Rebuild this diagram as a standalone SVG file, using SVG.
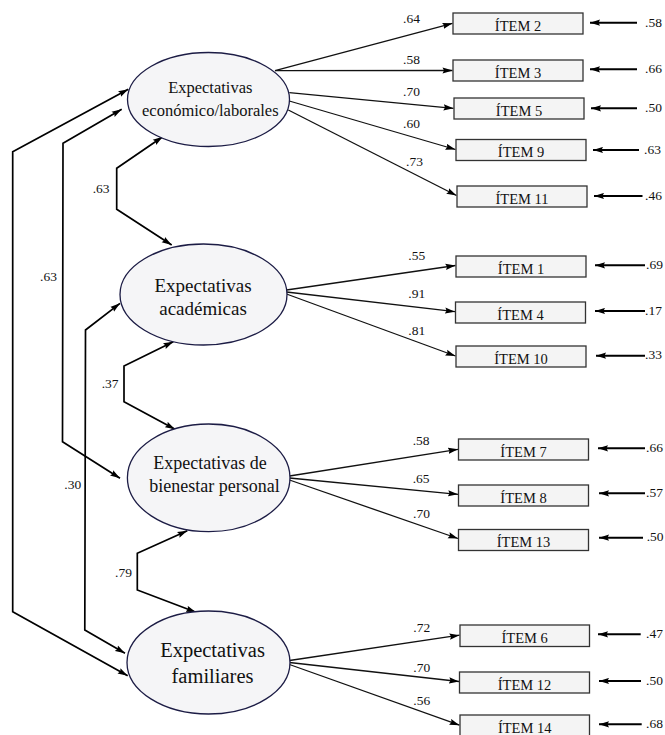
<svg xmlns="http://www.w3.org/2000/svg" width="665" height="735" viewBox="0 0 665 735">
<defs>
<marker id="ah" markerUnits="userSpaceOnUse" markerWidth="10" markerHeight="7" viewBox="0 0 10 7" refX="10" refY="3.5" orient="auto-start-reverse">
<path d="M0,0.4 L10,3.5 L0,6.6 L1.5,3.5 z" fill="#000"/>
</marker>
<style>
.lat ellipse{fill:#f5f5f7;stroke:#1c1c45;stroke-width:1.3}
.lat text{font-family:"Liberation Serif","Times New Roman",serif;fill:#111;text-anchor:middle}
.box rect{fill:#f4f4f4;stroke:#333;stroke-width:1.3}
.box text{font-family:"Liberation Serif","Times New Roman",serif;font-size:14.5px;fill:#111;text-anchor:middle}
.lbl{font-family:"Liberation Serif","Times New Roman",serif;font-size:13.5px;fill:#111}
.load{stroke:#111;stroke-width:1.3;fill:none;marker-end:url(#ah)}
.err{stroke:#000;stroke-width:2;fill:none;marker-end:url(#ah)}
.cov{stroke:#000;stroke-width:1.7;fill:none;marker-start:url(#ah);marker-end:url(#ah)}
</style>
</defs>
<rect width="665" height="735" fill="#fff"/>

<g id="connectors">
<!-- loadings F1 -->
<line class="load" x1="275" y1="70.7" x2="452.5" y2="23.3"/>
<line class="load" x1="275" y1="70.7" x2="452.5" y2="70.5"/>
<line class="load" x1="289.3" y1="92.7" x2="453.5" y2="108.3"/>
<line class="load" x1="289.3" y1="101" x2="455.5" y2="149.5"/>
<line class="load" x1="288.3" y1="110" x2="456.5" y2="195.5"/>
<!-- loadings F2 -->
<line class="load" x1="286.5" y1="290" x2="455.5" y2="265.5"/>
<line class="load" x1="286.5" y1="292" x2="455" y2="311.7"/>
<line class="load" x1="286.5" y1="294" x2="455.5" y2="356"/>
<!-- loadings F3 -->
<line class="load" x1="289.5" y1="476" x2="458" y2="449.3"/>
<line class="load" x1="289.5" y1="478" x2="458" y2="494.3"/>
<line class="load" x1="289.5" y1="480" x2="458" y2="538.5"/>
<!-- loadings F4 -->
<line class="load" x1="289.5" y1="660.5" x2="459.5" y2="635.2"/>
<line class="load" x1="289.5" y1="662.5" x2="459" y2="681.5"/>
<line class="load" x1="289.5" y1="664.5" x2="459.5" y2="725.2"/>
<!-- errors -->
<line class="err" x1="637" y1="22.7" x2="590" y2="22.7"/>
<line class="err" x1="637" y1="69.3" x2="590" y2="69.3"/>
<line class="err" x1="637" y1="108.3" x2="591" y2="108.3"/>
<line class="err" x1="639" y1="150" x2="593" y2="150"/>
<line class="err" x1="642.5" y1="196" x2="594" y2="196"/>
<line class="err" x1="645" y1="265.3" x2="595" y2="265.3"/>
<line class="err" x1="645" y1="311" x2="595" y2="311"/>
<line class="err" x1="645" y1="355.7" x2="596" y2="355.7"/>
<line class="err" x1="645" y1="448.3" x2="598" y2="448.3"/>
<line class="err" x1="645" y1="493.3" x2="599" y2="493.3"/>
<line class="err" x1="643" y1="537.7" x2="599" y2="537.7"/>
<line class="err" x1="640.7" y1="634.3" x2="598" y2="634.3"/>
<line class="err" x1="641" y1="681" x2="599" y2="681"/>
<line class="err" x1="641.7" y1="724.3" x2="599" y2="724.3"/>
<!-- covariances -->
<polyline class="cov" points="128.3,89.3 12.7,151.7 12.7,611.7 127.7,675.7"/>
<polyline class="cov" points="121.7,109.3 63,143.3 62.5,441.7 120,478.3"/>
<polyline class="cov" points="120,303.3 85.5,330 84.8,630 125,653.3"/>
<polyline class="cov" points="162.7,136.7 116.7,168.3 116.7,209.3 171.7,245"/>
<polyline class="cov" points="173.3,341.7 124,366 124,401.7 175,429.3"/>
<polyline class="cov" points="187.3,530.7 137.3,553.3 137.3,590 196,612.3"/>
</g>

<g id="labels">
<text class="lbl" x="403" y="22.5">.64</text>
<text class="lbl" x="403" y="64">.58</text>
<text class="lbl" x="403" y="96">.70</text>
<text class="lbl" x="403" y="128.3">.60</text>
<text class="lbl" x="406" y="165.7">.73</text>
<text class="lbl" x="408.3" y="260">.55</text>
<text class="lbl" x="408.3" y="298.3">.91</text>
<text class="lbl" x="408.3" y="335">.81</text>
<text class="lbl" x="412.7" y="445">.58</text>
<text class="lbl" x="412.7" y="483.3">.65</text>
<text class="lbl" x="413" y="517.7">.70</text>
<text class="lbl" x="413.3" y="631.7">.72</text>
<text class="lbl" x="413.3" y="671.7">.70</text>
<text class="lbl" x="413.3" y="705">.56</text>
<text class="lbl" x="645" y="26.5">.58</text>
<text class="lbl" x="645" y="73">.66</text>
<text class="lbl" x="645" y="112">.50</text>
<text class="lbl" x="644" y="153.7">.63</text>
<text class="lbl" x="645" y="199.7">.46</text>
<text class="lbl" x="646" y="269">.69</text>
<text class="lbl" x="645" y="314.7">.17</text>
<text class="lbl" x="645" y="359.4">.33</text>
<text class="lbl" x="646" y="452">.66</text>
<text class="lbl" x="646" y="497">.57</text>
<text class="lbl" x="646.7" y="541.4">.50</text>
<text class="lbl" x="646" y="638">.47</text>
<text class="lbl" x="646" y="684.7">.50</text>
<text class="lbl" x="646" y="728">.68</text>
<text class="lbl" x="40" y="280.7">.63</text>
<text class="lbl" x="92.7" y="193.3">.63</text>
<text class="lbl" x="101.7" y="388.3">.37</text>
<text class="lbl" x="64.3" y="489.3">.30</text>
<text class="lbl" x="115" y="576.7">.79</text>
</g>

<g id="F1" class="lat">
<ellipse cx="208.5" cy="99.5" rx="81" ry="47"/>
<text x="210.3" y="93" font-size="16.5">Expectativas</text>
<text x="210.3" y="116" font-size="16.5">económico/laborales</text>
</g>
<g id="F2" class="lat">
<ellipse cx="203.5" cy="294.5" rx="83.5" ry="50.5"/>
<text x="203" y="291.5" font-size="19">Expectativas</text>
<text x="203" y="315" font-size="19">académicas</text>
</g>
<g id="F3" class="lat">
<ellipse cx="208.7" cy="477.8" rx="81.3" ry="53.8"/>
<text x="210" y="469.3" font-size="18">Expectativas de</text>
<text x="214.5" y="491.7" font-size="18">bienestar personal</text>
</g>
<g id="F4" class="lat">
<ellipse cx="208.5" cy="662.5" rx="81.5" ry="51.5"/>
<text x="212.5" y="657" font-size="20.5">Expectativas</text>
<text x="212.5" y="683" font-size="20.5">familiares</text>
</g>

<g id="item2" class="box"><rect x="453" y="13" width="130" height="21"/><text x="518" y="30.5">ÍTEM 2</text></g>
<g id="item3" class="box"><rect x="453" y="60" width="130" height="21"/><text x="518" y="77.5">ÍTEM 3</text></g>
<g id="item5" class="box"><rect x="454" y="98" width="130" height="21"/><text x="519" y="115.5">ÍTEM 5</text></g>
<g id="item9" class="box"><rect x="456" y="139.5" width="130" height="21"/><text x="521" y="157">ÍTEM 9</text></g>
<g id="item11" class="box"><rect x="457" y="186" width="130" height="21"/><text x="522" y="203.5">ÍTEM 11</text></g>
<g id="item1" class="box"><rect x="456" y="256" width="130" height="21"/><text x="521" y="273.5">ÍTEM 1</text></g>
<g id="item4" class="box"><rect x="455.5" y="302" width="130" height="21"/><text x="520.5" y="319.5">ÍTEM 4</text></g>
<g id="item10" class="box"><rect x="456" y="346" width="130" height="21"/><text x="521" y="363.5">ÍTEM 10</text></g>
<g id="item7" class="box"><rect x="458.5" y="439" width="130" height="21"/><text x="523.5" y="456.5">ÍTEM 7</text></g>
<g id="item8" class="box"><rect x="458.5" y="485" width="130" height="21"/><text x="523.5" y="502.5">ÍTEM 8</text></g>
<g id="item13" class="box"><rect x="458.5" y="529.5" width="130" height="21"/><text x="523.5" y="547">ÍTEM 13</text></g>
<g id="item6" class="box"><rect x="460" y="625" width="129.5" height="21.5"/><text x="524.7" y="642.5">ÍTEM 6</text></g>
<g id="item12" class="box"><rect x="459.5" y="672" width="130" height="21"/><text x="524.5" y="689.5">ÍTEM 12</text></g>
<g id="item14" class="box"><rect x="460" y="715" width="129.5" height="21"/><text x="524.7" y="732.5">ÍTEM 14</text></g>
</svg>
